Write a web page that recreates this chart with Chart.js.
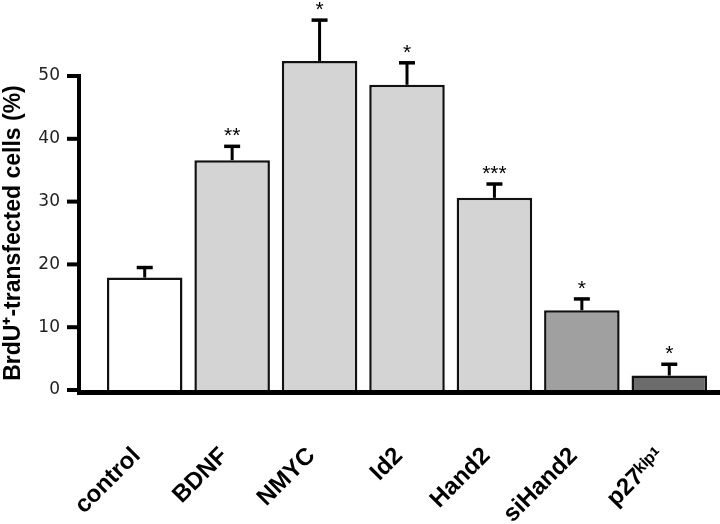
<!DOCTYPE html>
<html><head><meta charset="utf-8">
<script src="https://cdn.jsdelivr.net/npm/chart.js@4.4.0/dist/chart.umd.min.js"></script>
<style>html,body{margin:0;padding:0;background:#fff}</style></head>
<body><canvas id="c" width="720" height="524"></canvas>
<script>
const categories = ['control', 'BDNF', 'NMYC', 'Id2', 'Hand2', 'siHand2', 'p27ᵏⁱᵖ¹'];
const values = [17.9, 36.6, 52.4, 48.6, 30.6, 12.7, 2.3];
const errors = [1.6, 2.2, 6.5, 3.5, 2.2, 1.8, 1.8];
const significance = ['', '**', '*', '*', '***', '*', '*'];
const barColors = ['#ffffff', '#d4d4d4', '#d4d4d4', '#d4d4d4', '#d4d4d4', '#a0a0a0', '#6c6c6c'];
const yTicks = [0, 10, 20, 30, 40, 50];
const yTitle = 'BrdU⁺-transfected cells (%)';

function line(ctx, x1, y1, x2, y2) { ctx.beginPath(); ctx.moveTo(x1, y1); ctx.lineTo(x2, y2); ctx.stroke(); }

const overlay = {
  id: 'overlay',
  afterDatasetsDraw(chart) {
    const { ctx, chartArea: a, scales: { y } } = chart;
    const meta = chart.getDatasetMeta(0);
    ctx.save();
    ctx.strokeStyle = '#000';
    ctx.fillStyle = '#000';
    ctx.lineCap = 'butt';
    meta.data.forEach((bar, i) => {
      const top = y.getPixelForValue(values[i]);
      const end = y.getPixelForValue(values[i] + errors[i]);
      ctx.lineWidth = 3;
      line(ctx, bar.x, top, bar.x, end);
      ctx.lineWidth = 3.5;
      line(ctx, bar.x - 8, end, bar.x + 8, end);
      if (significance[i]) {
        ctx.font = '21px "Liberation Sans", Arial, sans-serif';
        ctx.textAlign = 'center';
        ctx.textBaseline = 'alphabetic';
        ctx.fillText(significance[i], bar.x, end - 4);
      }
    });
    // axes
    const ax = a.left - 22;
    ctx.lineWidth = 4;
    line(ctx, ax, y.getPixelForValue(yTicks[yTicks.length - 1]) - 2, ax, a.bottom + 5);
    yTicks.forEach(t => {
      const py = y.getPixelForValue(t);
      line(ctx, ax - 12, py, ax, py);
    });
    ctx.lineWidth = 5;
    line(ctx, ax - 2, a.bottom + 2.5, chart.width, a.bottom + 2.5);
    ctx.restore();
  }
};

new Chart(document.getElementById('c'), {
  type: 'bar',
  data: {
    labels: categories,
    datasets: [{
      data: values,
      backgroundColor: barColors,
      borderColor: '#111',
      borderWidth: 2.5,
      categoryPercentage: 1,
      barPercentage: 0.864,
      clip: false
    }]
  },
  options: {
    responsive: false,
    animation: false,
    layout: { padding: { top: 76, right: 7, left: 0, bottom: 0 } },
    plugins: { legend: { display: false }, tooltip: { enabled: false } },
    scales: {
      x: {
        grid: { display: false, drawTicks: false },
        border: { display: false },
        afterFit(s) { s.height = 134; s.paddingLeft = 0; s.paddingRight = 0; },
        ticks: {
          minRotation: 45, maxRotation: 45, autoSkip: false,
          padding: 52, labelOffset: -8,
          color: '#000',
          font: { family: '"Liberation Sans", Arial, sans-serif', size: 24, weight: 'bold' }
        }
      },
      y: {
        min: 0, max: 50,
        afterFit(s) { s.width = 101; s.paddingTop = 0; s.paddingBottom = 0; },
        afterBuildTicks(s) { s.ticks = yTicks.map(v => ({ value: v })); },
        grid: { display: false, drawTicks: false },
        border: { display: false },
        ticks: {
          padding: 41, color: '#222',
          font: { family: '"DejaVu Sans", Verdana, sans-serif', size: 17 }
        },
        title: {
          display: true, text: yTitle, color: '#000',
          padding: { top: 0, bottom: 0 },
          font: { family: '"Liberation Sans", Arial, sans-serif', size: 23, weight: 'bold' }
        }
      }
    }
  },
  plugins: [overlay]
});
</script>
</body></html>
